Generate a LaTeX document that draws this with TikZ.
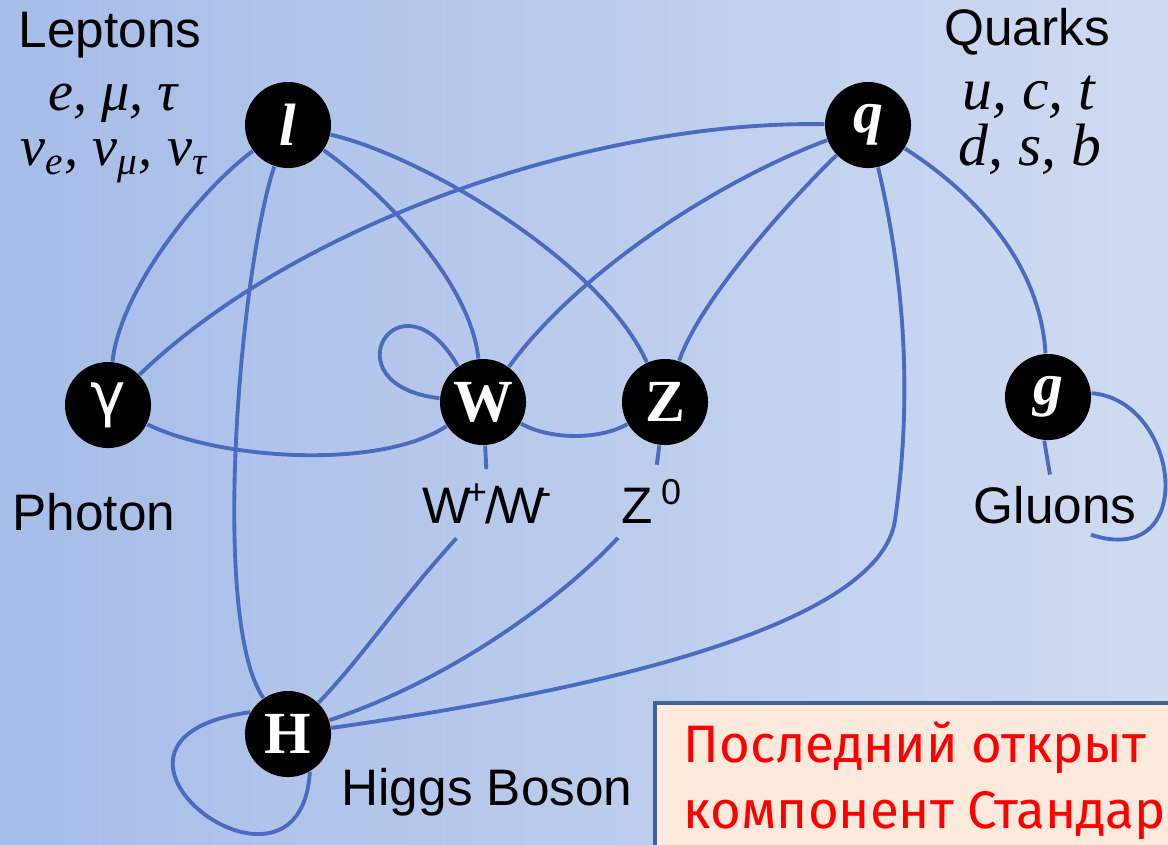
\documentclass[tikz,border=0pt]{standalone}
\usepackage{fontspec}
\setmainfont{Liberation Serif}
\setsansfont{Liberation Sans}
\newfontfamily\greekfont{DejaVu Sans}
\newfontfamily\notefont{Fira Sans}
\usetikzlibrary{backgrounds}
\definecolor{bgleft}{HTML}{A6BDE8}
\definecolor{bgright}{HTML}{CFDBF1}
\definecolor{linkblue}{HTML}{4A6CC0}
\definecolor{notefill}{HTML}{FDEADD}
\definecolor{noteedge}{HTML}{40638F}
\definecolor{notered}{HTML}{FF0000}
\tikzset{
  part/.style={circle,fill=black,text=white,minimum size=0.86cm,inner sep=0pt,
    font=\fontsize{17}{17}\selectfont\bfseries},
  link/.style={draw=linkblue,line width=1.1pt},
  lbl/.style={font=\sffamily\fontsize{14.6}{15}\selectfont,inner sep=2pt,anchor=base},
  gap/.style={inner sep=#1},
  gap/.default={4pt},
  fam/.style={font=\fontsize{#1}{#1}\selectfont\itshape,inner sep=0pt,anchor=base},
  fam/.default={16},
  note/.style={draw=noteedge,fill=notefill,line width=1.2pt},
  notetext/.style={anchor=base west,inner sep=0pt,text=notered,
    font=\notefont\fontsize{15}{16}\selectfont},
}
\begin{document}
\begin{tikzpicture}[x=0.01cm,y=-0.01cm]
  \useasboundingbox (0,0) rectangle (1168,844);
  % particles
  \node[part] (l) at (288,125) {\itshape l};
  \node[part] (q) at (868,125) {\itshape q};
  \node[part] (gam) at (108,405) {\greekfont\mdseries γ};
  \node[part] (W) at (483,402) {W};
  \node[part] (Z) at (665,402) {Z};
  \node[part] (g) at (1048,397) {\itshape g};
  \node[part] (H) at (288,734) {H};
  % names
  \node[lbl] (lep) at (110,47) {Leptons};
  \node[fam] (lepa) at (113,110) {e,~μ,~τ};
  \node[fam] (lepb) at (114,165) {ν\textsubscript{\itshape e}, ν\textsubscript{\itshape μ}, ν\textsubscript{\itshape τ}};
  \node[lbl] (qua) at (1027,45) {Quarks};
  \node[fam=17] (quaa) at (1029,109) {u, c, t};
  \node[fam=17] (quab) at (1030,165) {d, s, b};
  \node[lbl] (pho) at (94,530) {Photon};
  \node[lbl,gap] (wlab) at (488,523) {W\kern-1.5pt\textsuperscript{+}\kern-1pt/\kern-1pt W\kern-1.5pt\textsuperscript{-}};
  \node[lbl,gap] (zlab) at (652,523) {Z\,\textsuperscript{0}};
  \node[lbl,gap=3pt] (glu) at (1055,523) {Gluons};
  \node[lbl] (hig) at (487,805) {Higgs Boson};
  % interactions
  \begin{scope}[on background layer]
    \shade[left color=bgleft,right color=bgright] (0,0) rectangle (1168,844);
    \draw[link] (l) .. controls (200,190) and (120,290) .. (gam);
    \draw[link] (l) .. controls (240,270) and (210,620) .. (H);
    \draw[link] (l) .. controls (380,190) and (470,280) .. (W);
    \draw[link] (l) .. controls (420,155) and (600,260) .. (Z);
    \draw[link] (q) .. controls (600,120) and (300,220) .. (gam);
    \draw[link] (q) .. controls (720,180) and (580,270) .. (W);
    \draw[link] (q) .. controls (790,200) and (700,300) .. (Z);
    \draw[link] (q) .. controls (900,260) and (915,380) .. (895,520)
      .. controls (880,625) and (600,690) .. (H);
    \draw[link] (q) .. controls (970,190) and (1040,260) .. (g);
    \draw[link] (gam) .. controls (220,460) and (380,470) .. (W);
    \draw[link] (W) .. controls (550,440) and (600,440) .. (Z);
    \draw[link] (W.125) .. controls (400,265) and (325,385) .. (W.175);
    \draw[link] (W) -- (wlab);
    \draw[link] (wlab) .. controls (400,600) and (360,660) .. (H);
    \draw[link] (Z) -- (zlab);
    \draw[link] (zlab) .. controls (560,600) and (450,680) .. (H);
    \draw[link] (g.-95) -- (glu);
    \draw[link] (g.5) .. controls (1180,400) and (1200,570) .. (glu.-40);
    \draw[link] (H.150) .. controls (50,740) and (300,930) .. (H.-60);
  \end{scope}
  % note box
  \begin{scope}
    \clip (0,0) rectangle (1168,844);
    \draw[note] (655,703) rectangle (1220,880);
  \end{scope}
  \node[notetext] (nta) at (683,762) {Последний открыт};
  \node[notetext] (ntb) at (683,828) {компонент Стандар};
\end{tikzpicture}
\end{document}
